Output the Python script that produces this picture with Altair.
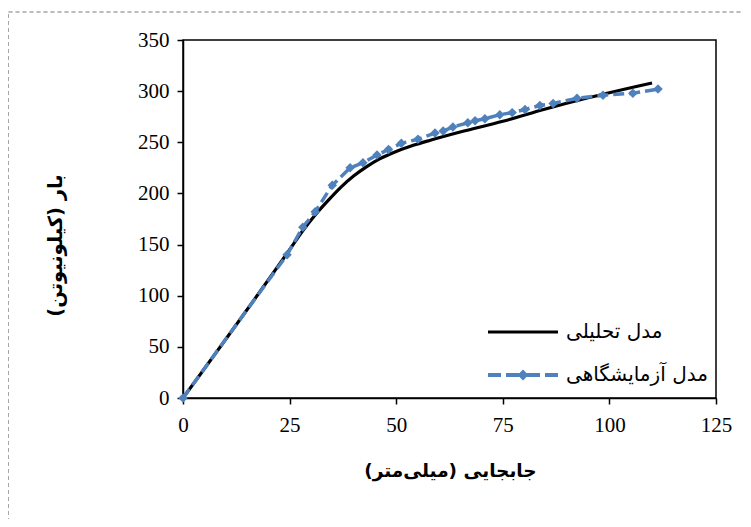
import altair as alt
import pandas as pd

# Analytical model (black solid)
ana_x = [0, 25, 28, 31, 34, 37, 40, 43, 46, 50, 54, 58, 65, 75, 85, 95, 110]
ana_y = [0, 145, 163, 179, 193, 206, 217, 226, 233.5, 241, 247, 252, 260, 270.5, 282.5, 293.5, 308]

# Experimental model (blue dashed with diamonds)
exp_x = [0, 24.4, 28.1, 31, 35, 39.2, 42.2, 45.5, 48.2, 51.2, 55.1, 59.1, 61, 63.3, 66.8,
         68.5, 70.8, 74.3, 77.2, 80.2, 83.7, 86.8, 92.4, 98.5, 105.5, 111.4]
exp_y = [0, 140, 167, 182, 208, 225, 230, 237.5, 243, 249, 253, 259, 261, 265, 269,
         271, 273, 277, 279, 282, 286, 288, 293, 296, 298, 302]

series = ["مدل تحلیلی", "مدل آزمایشگاهی"]
x_ticks = [0, 25, 50, 75, 100, 125]
y_ticks = [0, 50, 100, 150, 200, 250, 300, 350]

BLUE = "#4F81BD"

ana = pd.DataFrame({"x": ana_x, "y": ana_y})
exp = pd.DataFrame({"x": exp_x, "y": exp_y})
leg = pd.DataFrame({"s": series})

xs = alt.Scale(domain=[0, 125], nice=False)
ys = alt.Scale(domain=[0, 350], nice=False)

xaxis = alt.Axis(values=x_ticks, title="جابجایی (میلی‌متر)", grid=False, labelFlush=False,
                 titleX=267, titleY=72, titleBaseline="middle", titleAlign="center",
                 titleFontSize=18.5)
yaxis = alt.Axis(values=y_ticks, title="بار (کیلونیوتن)", grid=False, labelFlush=False,
                 titleX=-128, titleY=205, titleAngle=-90, titleBaseline="middle",
                 titleAlign="center", titleFontSize=19.5)

line_ana = alt.Chart(ana).mark_line(color="black", strokeWidth=3.2, interpolate="monotone").encode(
    x=alt.X("x:Q", scale=xs, axis=xaxis),
    y=alt.Y("y:Q", scale=ys, axis=yaxis),
)

line_exp = alt.Chart(exp).mark_line(color=BLUE, strokeWidth=3.5, strokeDash=[11, 5]).encode(
    x=alt.X("x:Q", scale=xs),
    y=alt.Y("y:Q", scale=ys),
)

pts_exp = alt.Chart(exp).mark_point(shape="diamond", filled=True, size=90, color=BLUE, opacity=1).encode(
    x=alt.X("x:Q", scale=xs),
    y=alt.Y("y:Q", scale=ys),
)

path_solid = "M-3.5,-0.16H3.5V0.16H-3.5Z"
path_dash = ("M-3.5,-0.2H-2.2V0.2H-3.5Z M-1.7,-0.2H-0.4V0.2H-1.7Z "
             "M0.4,-0.2H1.7V0.2H0.4Z M2.2,-0.2H3.5V0.2H2.2Z "
             "M0,-0.55L0.55,0L0,0.55L-0.55,0Z")

legend = alt.Legend(title=None, orient="none", legendX=330, legendY=282,
                    labelFont="DejaVu Sans", labelFontSize=20, labelColor="black",
                    symbolSize=400, symbolStrokeWidth=0, labelOffset=33,
                    rowPadding=23, padding=0, symbolOpacity=1)

leg_layer = alt.Chart(leg).transform_filter("false").mark_point(filled=True, size=400).encode(
    shape=alt.Shape("s:N", scale=alt.Scale(domain=series, range=[path_solid, path_dash]), legend=legend),
    fill=alt.Fill("s:N", scale=alt.Scale(domain=series, range=["black", BLUE]), legend=legend),
)

frame = alt.Chart(leg).mark_rect(fill=None, stroke="#a6a6a6", strokeWidth=1, strokeDash=[4, 3]).encode(
    x=alt.value(-174.5), x2=alt.value(565), y=alt.value(-28), y2=alt.value(520),
)

chart = alt.layer(frame, line_ana, line_exp, pts_exp, leg_layer).properties(
    width=533, height=358,
    padding={"left": 175, "top": 32, "right": 27, "bottom": 121},
    autosize=alt.AutoSizeParams(type="none"),
    background="white",
).configure_view(stroke="black", strokeWidth=1.5).configure_axis(
    domainColor="black", domainWidth=1.5, tickColor="black", tickWidth=1.5, tickSize=6,
    labelFont="Liberation Serif", labelFontSize=21, labelColor="black", labelPadding=8,
    titleFont="DejaVu Sans", titleFontWeight="bold", titleColor="black",
).configure_axisX(labelPadding=10)

chart.save("out.html", embed_options={"renderer": "svg", "actions": False})
